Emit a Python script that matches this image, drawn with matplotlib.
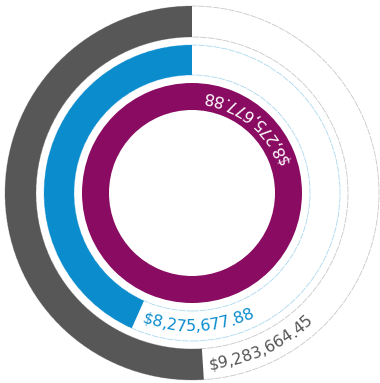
import numpy as np
import matplotlib.pyplot as plt
from matplotlib.patches import Wedge, Circle
from matplotlib.font_manager import FontProperties

# rings from outside to inside
values = [9283664.45, 8275677.88, 8275677.88]
goals = [18200000, 19100000, 8275677.88]
colors = ['#575757', '#0b8ccd', '#8a0b62']
track_colors = ['#c8c8c8', '#abd8f0', None]
text_colors = ['#555555', '#0b8ccd', 'white']
rings = [(156, 187), (118, 148), (83, 110)]

cx, cy = 192, 190

fig = plt.figure(figsize=(3.8, 3.83), dpi=100)
ax = fig.add_axes([0, 0, 1, 1])
ax.set_xlim(0, 380)
ax.set_ylim(0, 383)
ax.set_aspect('equal')
ax.axis('off')

renderer = fig.canvas.get_renderer()
fp = FontProperties(family='DejaVu Sans', size=11.5)


def tw(s):
    if not s:
        return 0
    return renderer.get_text_width_height_descent(s, fp, ismath=False)[0]


def curved(text, r, start, color):
    # one glyph at a time, counter-clockwise from start (deg), tops facing the centre
    for i, ch in enumerate(text):
        s = (tw(text[:i]) + tw(text[:i + 1])) / 2
        th = start + np.degrees(s / r)
        t = np.radians(th)
        ax.text(cx + r * np.cos(t), cy + r * np.sin(t), ch, fontproperties=fp,
                color=color, rotation=th + 90, rotation_mode='anchor',
                ha='center', va='baseline')


for (r_in, r_out), v, g, c, tc, lc in zip(rings, values, goals, colors, track_colors, text_colors):
    if tc:
        for r in (r_in, r_out):
            ax.add_patch(Circle((cx, cy), r, fill=False, ec=tc, lw=0.6, ls=(0, (8, 1.2))))
    frac = min(v / g, 1.0)
    end = 90 + 360 * frac
    ax.add_patch(Wedge((cx, cy), r_out, 90, end, width=r_out - r_in, fc=c, ec='none'))

    label = '${:,.2f}'.format(v)
    r_mid = (r_in + r_out) / 2
    r_txt = r_mid + 5.5
    if frac < 1:
        start = end + np.degrees(6 / r_txt)
    else:
        start = 90 - np.degrees((tw(label) + 12) / r_txt)
    curved(label, r_txt, start, lc)

fig.savefig('out.png', dpi=100)
